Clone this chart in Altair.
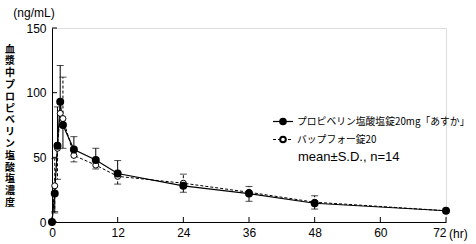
import altair as alt
import pandas as pd

# ---- data ----
times = [0, 0.5, 1, 1.5, 2, 4, 8, 12, 24, 36, 48, 72]
series_a = "プロピベリン塩酸塩錠20mg「あすか」"
series_b = "バップフォー錠20"
mean_a = [0, 22, 59, 93, 75, 56, 48, 37.5, 28, 22, 14.5, 8.7]
up_a = [0, 0, 30, 28, 0, 10, 9, 10, 0, 0, 0, 0]
dn_a = [0, 14, 0, 0, 18, 0, 0, 0, 5, 6, 4.5, 0]
mean_b = [0, 28, 57, 84, 80, 51.5, 44, 35.3, 30, 23, 15.3, 8.7]
up_b = [0, 21, 0, 0, 32, 0, 0, 0, 7, 4.5, 5, 0]
dn_b = [0, 21, 24, 0, 0, 5, 3, 6, 0, 0, 0, 0]
x_ticks = [0, 12, 24, 36, 48, 60, 72]
y_ticks = [0, 50, 100, 150]
y_title = "血漿中プロピベリン塩酸塩濃度"
unit_label = "(ng/mL)"
x_unit = "(hr)"
note = "mean±S.D., n=14"

W, H = 394, 194
FONT = "Liberation Sans"
JFONT = "Noto Sans CJK JP"


def err_rows(means, ups, dns):
    rows = []
    for t, m, u, d in zip(times, means, ups, dns):
        if u > 0:
            rows.append({"t": t, "y0": m, "y1": m + u})
        if d > 0:
            rows.append({"t": t, "y0": m, "y1": m - d})
    return pd.DataFrame(rows)


df_a = pd.DataFrame({"t": times, "value": mean_a})
df_b = pd.DataFrame({"t": times, "value": mean_b})
err_a = err_rows(mean_a, up_a, dn_a)
err_b = err_rows(mean_b, up_b, dn_b)

xscale = alt.Scale(domain=[0, 72], nice=False, zero=False)
yscale = alt.Scale(domain=[0, 150], nice=False)

x_axis = alt.Axis(values=x_ticks, ticks=False, grid=False, domainColor="black",
                  domainWidth=1, labelColor="black", labelFont=FONT,
                  labelFontSize=12, labelPadding=5, title=None, labelFlush=False,
                  labelAlign={"condition": {"test": "datum.value === 72", "value": "right"},
                              "value": "center"})
y_axis = alt.Axis(values=y_ticks, ticks=False, grid=False, domainColor="black",
                  domainWidth=1, labelColor="black", labelFont=FONT,
                  labelFontSize=12, labelPadding=6, title=None)


def X(field):
    return alt.X(field, scale=xscale, axis=x_axis, title=None)


def Y(field):
    return alt.Y(field, scale=yscale, axis=y_axis, title=None)


line_b = alt.Chart(df_b).mark_line(color="black", strokeWidth=1, strokeDash=[3, 2]).encode(
    x=X("t:Q"), y=Y("value:Q"))
line_a = alt.Chart(df_a).mark_line(color="black", strokeWidth=1.2).encode(
    x=X("t:Q"), y=Y("value:Q"))


def err_layers(df, dash):
    kw = {"strokeDash": [3, 2]} if dash else {}
    bar = alt.Chart(df).mark_rule(color="black", strokeWidth=1, **kw).encode(
        x=X("t:Q"), y=Y("y0:Q"), y2="y1:Q")
    cap = alt.Chart(df).mark_tick(color="black", orient="horizontal", size=7, thickness=1).encode(
        x=X("t:Q"), y=Y("y1:Q"))
    return bar + cap


pts_b = alt.Chart(df_b).mark_point(shape="circle", filled=True, fill="white", stroke="black",
                                   strokeWidth=1, size=36, opacity=1).encode(
    x=X("t:Q"), y=Y("value:Q"))
pts_a = alt.Chart(df_a).mark_point(shape="circle", filled=True, fill="black", stroke="black",
                                   size=36, opacity=1).encode(
    x=X("t:Q"), y=Y("value:Q"))

# inward ticks
xt = alt.Chart(pd.DataFrame({"t": x_ticks})).mark_rule(color="black", strokeWidth=1).encode(
    x=X("t:Q"), y=alt.value(H), y2=alt.value(H - 5))
yt = alt.Chart(pd.DataFrame({"value": y_ticks})).mark_rule(color="black", strokeWidth=1).encode(
    y=Y("value:Q"), x=alt.value(0), x2=alt.value(5))

one = pd.DataFrame({"k": [0]})


def txt(text, x, y, size=12, font=FONT, align="left", baseline="middle", weight="normal", lh=None):
    kw = {}
    if lh is not None:
        kw["lineHeight"] = lh
    return alt.Chart(one).mark_text(align=align, baseline=baseline, font=font, fontSize=size,
                                    fontWeight=weight, color="black", **kw).encode(
        x=alt.value(x), y=alt.value(y), text=alt.value(text))


ytitle = txt(list(y_title), -42, 16.5, size=10, font=JFONT, align="center", baseline="top",
             weight="bold", lh=11.8)
unit = txt(unit_label, -18, -15, size=12, align="center")
xunit = txt(x_unit, W + 3, H + 12, size=12)

# legend
ly1, ly2 = 93.5, 111.5
leg_l1 = alt.Chart(one).mark_rule(color="black", strokeWidth=1.2).encode(
    x=alt.value(221), x2=alt.value(241), y=alt.value(ly1))
leg_p1 = alt.Chart(one).mark_point(shape="circle", filled=True, fill="black", stroke="black",
                                   size=32, opacity=1).encode(x=alt.value(231), y=alt.value(ly1))
leg_l2 = alt.Chart(one).mark_rule(color="black", strokeWidth=1, strokeDash=[3, 2]).encode(
    x=alt.value(221), x2=alt.value(241), y=alt.value(ly2))
leg_p2 = alt.Chart(one).mark_point(shape="circle", filled=True, fill="white", stroke="black",
                                   size=32, opacity=1).encode(x=alt.value(231), y=alt.value(ly2))
leg_t1 = txt(series_a, 245, ly1, size=9.8, font=JFONT)
leg_t2 = txt(series_b, 245, ly2, size=9.8, font=JFONT)
leg_t3 = txt(note, 246, 129, size=13)

chart = alt.layer(
    line_b, err_layers(err_b, True), line_a, err_layers(err_a, False), pts_b, pts_a,
    xt, yt, ytitle, unit, xunit,
    leg_l1, leg_p1, leg_l2, leg_p2, leg_t1, leg_t2, leg_t3,
).properties(
    width=W, height=H,
    autosize=alt.AutoSizeParams(type="none"),
    padding={"left": 52, "top": 28, "right": 30, "bottom": 22},
).configure_view(stroke=None).configure(background="white")

chart.save("out.html", embed_options={"renderer": "svg", "actions": False})
